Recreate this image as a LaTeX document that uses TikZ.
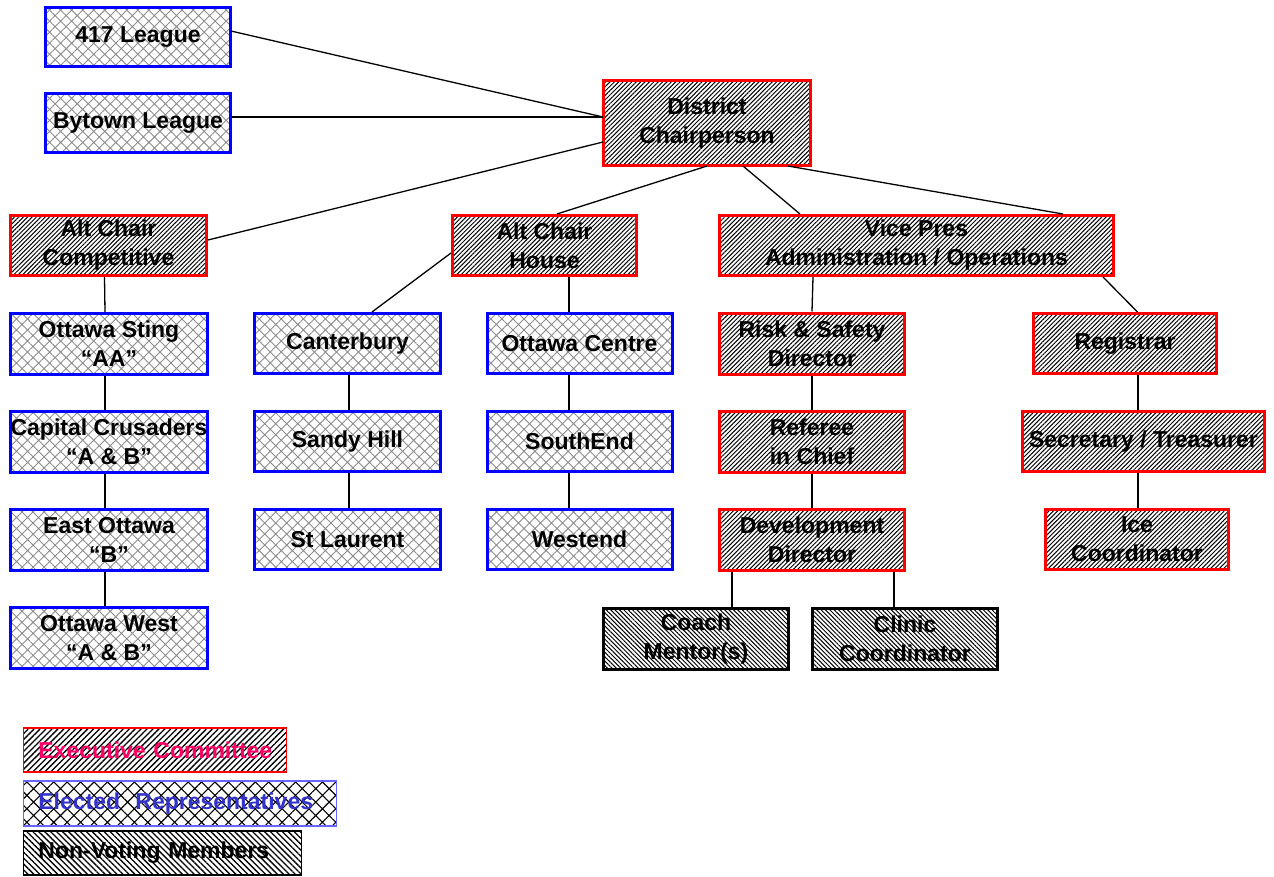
\documentclass[tikz,border=0pt]{standalone}
\usepackage{fontspec}
\setmainfont{Liberation Sans}
\usetikzlibrary{patterns.meta}

\definecolor{execred}{HTML}{FF0066}
\definecolor{elecblue}{HTML}{3333CC}
\definecolor{legblue}{HTML}{6666FF}

\tikzset{
  box/.style={line width=3pt, align=center, inner sep=0pt,
    minimum width=185pt, minimum height=60pt,
    font=\fontsize{23}{29}\selectfont\bfseries},
  exec/.style={box, draw=red, pattern={Lines[angle=45,distance=3.1pt,line width=1pt]}, pattern color=black},
  elected/.style={box, draw=blue, pattern={Hatch[angle=45,distance=7.8pt,line width=0.9pt]}, pattern color=black!45},
  nonvote/.style={box, draw=black, pattern={Lines[angle=-45,distance=3.1pt,line width=1pt]}, pattern color=black},
  sz/.style 2 args={minimum width=#1, minimum height=#2},
  legend/.style={line width=1.5pt, anchor=west, inner xsep=15pt, inner ysep=0pt, align=left,
    minimum height=44pt, font=\fontsize{23}{29}\selectfont\bfseries},
  link/.style={line width=1.3pt}
}

\begin{document}
\begin{tikzpicture}[x=1pt,y=-1pt]
	\useasboundingbox (0,0) rectangle (1274,876);

	%leagues and chair
	\node[elected, sz={185pt}{59pt}] (l417) at (138,37) {417 League};
	\node[elected, sz={185pt}{59pt}] (bytown) at (138,123) {Bytown League};
	\node[exec, sz={207pt}{85pt}] (chair) at (707,123) {District\\Chairperson};

	%second row
	\node[exec, sz={196pt}{60pt}] (altcomp) at (108.5,245.5) {Alt Chair\\Competitive};
	\node[exec, sz={184pt}{60pt}] (althouse) at (544.5,245.5) {Alt Chair\\House};
	\node[exec, sz={394pt}{60pt}] (vicepres) at (916.5,245.5) {Vice Pres\\Administration / Operations};

	%competitive
	\node[elected, sz={197pt}{61pt}] (sting) at (109,344) {Ottawa Sting\\“AA”};
	\node[elected, sz={197pt}{61pt}] (capital) at (109,442) {Capital Crusaders\\“A \& B”};
	\node[elected, sz={197pt}{61pt}] (eastott) at (109,540) {East Ottawa\\“B”};
	\node[elected, sz={197pt}{61pt}] (westott) at (109,638) {Ottawa West\\“A \& B”};

	%house
	\node[elected, sz={186pt}{60pt}] (canterbury) at (347.5,343.5) {Canterbury};
	\node[elected, sz={186pt}{60pt}] (sandy) at (347.5,441.5) {Sandy Hill};
	\node[elected, sz={186pt}{60pt}] (laurent) at (347.5,539.5) {St Laurent};
	\node[elected] (centre) at (579.5,343.5) {Ottawa Centre};
	\node[elected] (southend) at (579.5,441.5) {SouthEnd};
	\node[elected] (westend) at (579.5,539.5) {Westend};

	%administration
	\node[exec, sz={185pt}{61pt}] (risk) at (812,343.5) {Risk \& Safety\\Director};
	\node[exec, sz={185pt}{61pt}] (referee) at (812,441.5) {Referee\\in Chief};
	\node[exec, sz={185pt}{61pt}] (devel) at (812,540) {Development\\Director};
	\node[nonvote, sz={185pt}{61pt}] (coach) at (696,639) {Coach\\Mentor(s)};
	\node[nonvote, sz={185pt}{61pt}] (clinic) at (905,639) {Clinic\\Coordinator};
	\node[exec, sz={183pt}{60pt}] (registrar) at (1125,343.5) {Registrar};
	\node[exec, sz={242pt}{60pt}] (secretary) at (1143.5,441.5) {Secretary / Treasurer};
	\node[exec, sz={183pt}{60pt}] (ice) at (1137,539.5) {Ice\\Coordinator};

	%connectors
	\draw[link] ([yshift=6pt]l417.east) -- ([yshift=6pt]chair.west);
	\draw[link] ([yshift=6pt]bytown.east) -- ([yshift=6pt]chair.west);
	\draw[link] ([yshift=5.5pt]altcomp.east) -- ([yshift=-19pt]chair.west);
	\draw[link] (chair.south) -- ([xshift=12.5pt]althouse.north);
	\draw[link] ([xshift=36pt]chair.south) -- ([xshift=-116.5pt]vicepres.north);
	\draw[link] ([xshift=81pt]chair.south) -- ([xshift=146.5pt]vicepres.north);

	\draw[link] ([xshift=-4pt]altcomp.south) -- ([xshift=-4pt]sting.north);
	\draw[link] ([xshift=-4pt]sting.south) -- ([xshift=-4pt]capital.north);
	\draw[link] ([xshift=-4pt]capital.south) -- ([xshift=-4pt]eastott.north);
	\draw[link] ([xshift=-4pt]eastott.south) -- ([xshift=-4pt]westott.north);

	\draw[link] ([yshift=-7.5pt]althouse.west) -- ([xshift=24.5pt]canterbury.north);
	\draw[link] ([xshift=1.5pt]canterbury.south) -- ([xshift=1.5pt]sandy.north);
	\draw[link] ([xshift=1.5pt]sandy.south) -- ([xshift=1.5pt]laurent.north);
	\draw[link] ([xshift=24.5pt]althouse.south) -- ([xshift=-10.5pt]centre.north);
	\draw[link] ([xshift=-10.5pt]centre.south) -- ([xshift=-10.5pt]southend.north);
	\draw[link] ([xshift=-10.5pt]southend.south) -- ([xshift=-10.5pt]westend.north);

	\draw[link] ([xshift=-103.5pt]vicepres.south) -- (risk.north);
	\draw[link] (risk.south) -- (referee.north);
	\draw[link] (referee.south) -- (devel.north);
	\draw[link] ([xshift=-80pt]devel.south) -- ([xshift=36pt]coach.north);
	\draw[link] ([xshift=82pt]devel.south) -- ([xshift=-11pt]clinic.north);
	\draw[link] ([xshift=186.5pt]vicepres.south) -- ([xshift=12.5pt]registrar.north);
	\draw[link] ([xshift=13pt]registrar.south) -- ([xshift=-5.5pt]secretary.north);
	\draw[link] ([xshift=-5.5pt]secretary.south) -- ([xshift=1pt]ice.north);

	%legend
	\node[legend, draw=red, text=execred, text width=233pt,
	  pattern={Lines[angle=45,distance=4.2pt,line width=1.3pt]}, pattern color=black] (legexec) at (22.75,750) {\mbox{Executive Committee}};
	\node[legend, draw=legblue, text=elecblue, text width=283pt, minimum height=45pt,
	  pattern={Hatch[angle=45,distance=9.5pt,line width=1.1pt]}, pattern color=black] (legelect) at (22.75,803.5) {\mbox{Elected\ \ Representatives}};
	\node[legend, draw=black, text=black, text width=248pt,
	  pattern={Lines[angle=-45,distance=4.2pt,line width=1.3pt]}, pattern color=black] (legnon) at (22.75,853) {\mbox{Non-Voting Members}};

\end{tikzpicture}
\end{document}
